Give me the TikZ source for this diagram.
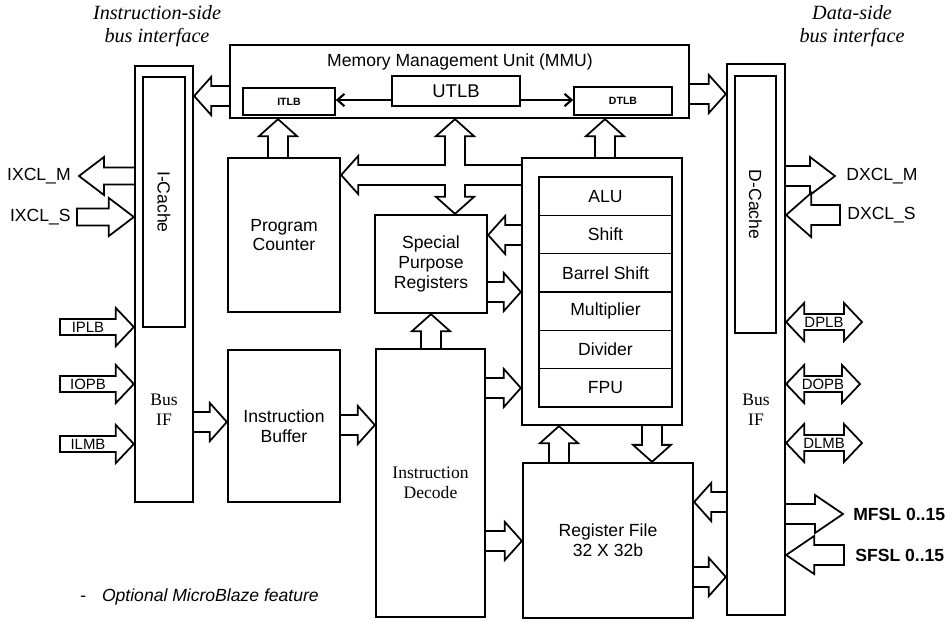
\documentclass[tikz,border=0pt]{standalone}
\usepackage{fontspec}
\setmainfont{Liberation Serif}
\setsansfont{Liberation Sans}
\usetikzlibrary{calc,fit,backgrounds,arrows.meta}

% hollow block arrows: shaft half width, head half width, head length
\newcommand\shw{0.2cm}
\newcommand\hdw{0.38cm}
\newcommand\hdl{0.34cm}
\newcommand\barrow[3][]{%
  \coordinate (ba-s) at #2; \coordinate (ba-e) at #3;
  \coordinate (ba-h) at ($(ba-e)!\hdl!(ba-s)$);
  \draw[blk] ($(ba-s)!\shw!90:(ba-e)$) -- ($(ba-h)!\shw!90:(ba-e)$) -- ($(ba-h)!\hdw!90:(ba-e)$)
    -- (ba-e) -- ($(ba-h)!\hdw!-90:(ba-e)$) -- ($(ba-h)!\shw!-90:(ba-e)$) -- ($(ba-s)!\shw!-90:(ba-e)$) #1;}
\newcommand\dbarrow[2]{%
  \coordinate (ba-s) at #1; \coordinate (ba-e) at #2;
  \coordinate (ba-h) at ($(ba-s)!\hdl!(ba-e)$); \coordinate (ba-k) at ($(ba-e)!\hdl!(ba-s)$);
  \draw[blk] (ba-s) -- ($(ba-h)!\hdw!90:(ba-e)$) -- ($(ba-h)!\shw!90:(ba-e)$) -- ($(ba-k)!\shw!90:(ba-e)$)
    -- ($(ba-k)!\hdw!90:(ba-e)$) -- (ba-e) -- ($(ba-k)!\hdw!-90:(ba-e)$) -- ($(ba-k)!\shw!-90:(ba-e)$)
    -- ($(ba-h)!\shw!-90:(ba-e)$) -- ($(ba-h)!\hdw!-90:(ba-e)$) -- cycle;}

\tikzset{
  box/.style={draw, line width=1.3pt, inner sep=0pt},
  inbox/.style={box, line width=0.9pt},
  blk/.style={draw, line width=1pt, fill=white, line join=miter},
  lbl/.style={inner sep=0pt, align=center, font=\sffamily\fontsize{10}{11.3}\selectfont},
  tx/.style={label={[lbl]center:#1}},
  tag/.style={inner sep=0pt, font=\sffamily\fontsize{8.5}{9}\selectfont},
  tlb/.style={label={[lbl, font=\sffamily\bfseries\fontsize{6}{7}\selectfont]center:#1}},
  ser/.style={inner sep=0pt, align=center, font=\fontsize{10}{11.3}\selectfont},
  ttl/.style={inner sep=0pt, align=center, font=\itshape\fontsize{11.5}{13}\selectfont},
  thinar/.style={line width=1.2pt, -{Straight Barb[length=4pt,width=7pt]}}
}

\begin{document}
\begin{tikzpicture}[x=0.02cm, y=-0.02cm]
\useasboundingbox (0,0) rectangle (951,620);

\node[ttl] (ititle) at (157,26) {Instruction-side\\bus interface};
\node[ttl] (dtitle) at (852,26) {Data-side\\bus interface};

% MMU
\node[box, fit={(230,45) (689,118)}] (mmu) {};
\node[lbl] (mmut) at (460,62) {Memory Management Unit (MMU)};
\node[inbox, fit={(243,88) (335,115)}, tlb=ITLB] (itlb) {};
\node[inbox, fit={(392,76) (520,106)},
  label={[lbl, font=\sffamily\fontsize{10.5}{12}\selectfont]center:UTLB}] (utlb) {};
\node[inbox, fit={(574,87) (672,115)}, tlb=DTLB] (dtlb) {};
\draw[thinar] (utlb.west|-0,100) -- (itlb.east|-0,100);
\draw[thinar] (utlb.east|-0,100) -- (dtlb.west|-0,100);

% bus interface columns
\node[box, fit={(135,66) (193,502)}] (icol) {};
\node[inbox, fit={(143,77) (185,327)}, label={[lbl, rotate=-90]center:I-Cache}] (ic) {};
\node[ser] (ibus) at (164,410) {Bus\\IF};
\node[box, fit={(727,64) (785,615)}] (dcol) {};
\node[inbox, fit={(735,76) (776,333)}, label={[lbl, rotate=-90]center:D-Cache}] (dc) {};
\node[ser] (dbus) at (756,410) {Bus\\IF};

% core blocks
\node[box, fit={(228,158) (340,312)}, tx={Program\\Counter}] (pc) {};
\node[box, fit={(228,350) (340,502)}, tx={Instruction\\Buffer}] (ib) {};
\node[box, fit={(375,215) (487,313)}, tx={Special\\Purpose\\Registers}] (spr) {};
\node[box, fit={(376,349) (485,617)}, label={[ser]center:Instruction\\Decode}] (id) {};
\node[box, fit={(522,158) (682,425)}] (exo) {};
\foreach \n/\t [count=\i] in {alu/ALU,sh/Shift,bsh/Barrel Shift,mul/Multiplier,dvd/Divider,fpu/FPU}
  \node[inbox, fit={(539,{177+38.33*(\i-1)}) (672,{177+38.33*\i})}, tx=\t] (\n) {};
\node[box, fit={(523,463) (693,618)}, tx={Register File\\32 X 32b}] (rf) {};

% free ends of the outside buses
\coordinate (ixm) at (79,176);  \coordinate (ixs) at (77,217);
\coordinate (iplb) at (60,327); \coordinate (iopb) at (60,384); \coordinate (ilmb) at (60,444);
\coordinate (dxm) at (835,176); \coordinate (dxs) at (840,215);
\coordinate (mfsl) at (843,514); \coordinate (sfsl) at (844,555);
\coordinate (dplb) at (862,322); \coordinate (dopb) at (860,384); \coordinate (dlmb) at (862,443);
\coordinate (busup) at (455,166); \coordinate (busdn) at (455,184);

\node[lbl, anchor=east] at ([xshift=-0.16cm]ixm) {IXCL\_M};
\node[lbl, anchor=east] at ([xshift=-0.12cm]ixs) {IXCL\_S};
\node[lbl, anchor=west] at ([xshift=0.22cm]dxm) {DXCL\_M};
\node[lbl, anchor=west] at ([xshift=0.14cm]dxs) {DXCL\_S};
\node[lbl, anchor=west, font=\sffamily\bfseries\fontsize{10}{11}\selectfont] at ([xshift=0.2cm]mfsl) {MFSL 0..15};
\node[lbl, anchor=west, font=\sffamily\bfseries\fontsize{10}{11}\selectfont] at ([xshift=0.22cm]sfsl) {SFSL 0..15};
\node[tag] at (88,327) {IPLB};
\node[tag] at (88,384) {IOPB};
\node[tag] at (88,444) {ILMB};
\node[tag] at (824,322) {DPLB};
\node[tag] at (823,384) {DOPB};
\node[tag] at (824,443) {DLMB};

\node[lbl, anchor=west] (note) at (80,597) {-\hspace{9pt}\textit{Optional MicroBlaze feature}};

\begin{scope}[on background layer]
\barrow{(mmu.west|-0,96)}{(icol.east|-0,96)}
\barrow{(mmu.east|-0,94)}{(dcol.west|-0,94)}
\barrow{(pc.north-|278,0)}{(mmu.south-|278,0)}
\barrow{(exo.west|-0,175)}{(pc.east|-0,175)}
\barrow{(busup)}{(mmu.south-|busup)}
\barrow{(busdn)}{(spr.north-|busdn)}
\barrow{(exo.north-|605,0)}{(mmu.south-|605,0)}
\barrow{(exo.west|-0,235)}{(spr.east|-0,235)}
\barrow{(spr.east|-0,292)}{(exo.west|-0,292)}
\barrow{(id.north-|431,0)}{(spr.south-|431,0)}
\barrow{(id.east|-0,388)}{(exo.west|-0,388)}
\barrow{(icol.east|-0,422)}{(ib.west|-0,422)}
\barrow{(ib.east|-0,425)}{(id.west|-0,425)}
\barrow{(id.east|-0,541)}{(rf.west|-0,541)}
\barrow{(rf.north-|559,0)}{(exo.south-|559,0)}
\barrow{(exo.south-|652,0)}{(rf.north-|652,0)}
\barrow{(dcol.west|-0,502)}{(rf.east|-0,502)}
\barrow{(rf.east|-0,577)}{(dcol.west|-0,577)}
% outside buses
\renewcommand\hdl{0.5cm}
\renewcommand\shw{0.17cm}
\barrow{(icol.west|-ixm)}{(ixm)}
\barrow[-- cycle]{(ixs)}{(icol.west|-ixs)}
\renewcommand\shw{0.2cm}
\barrow{(dcol.east|-dxm)}{(dxm)}
\renewcommand\hdw{0.44cm}
\barrow[-- cycle]{(dxs)}{(dcol.east|-dxs)}
\renewcommand\hdw{0.38cm}
\renewcommand\hdl{0.56cm}
\barrow{(dcol.east|-mfsl)}{(mfsl)}
\barrow[-- cycle]{(sfsl)}{(dcol.east|-sfsl)}
\renewcommand\shw{0.16cm}
\renewcommand\hdl{0.36cm}
\foreach \p in {iplb,iopb,ilmb}
  {\barrow[-- cycle]{(\p)}{(icol.west|-\p)}}
\foreach \p in {dplb,dopb,dlmb}
  {\dbarrow{(dcol.east|-\p)}{(\p)}}
\end{scope}
\end{tikzpicture}
\end{document}
